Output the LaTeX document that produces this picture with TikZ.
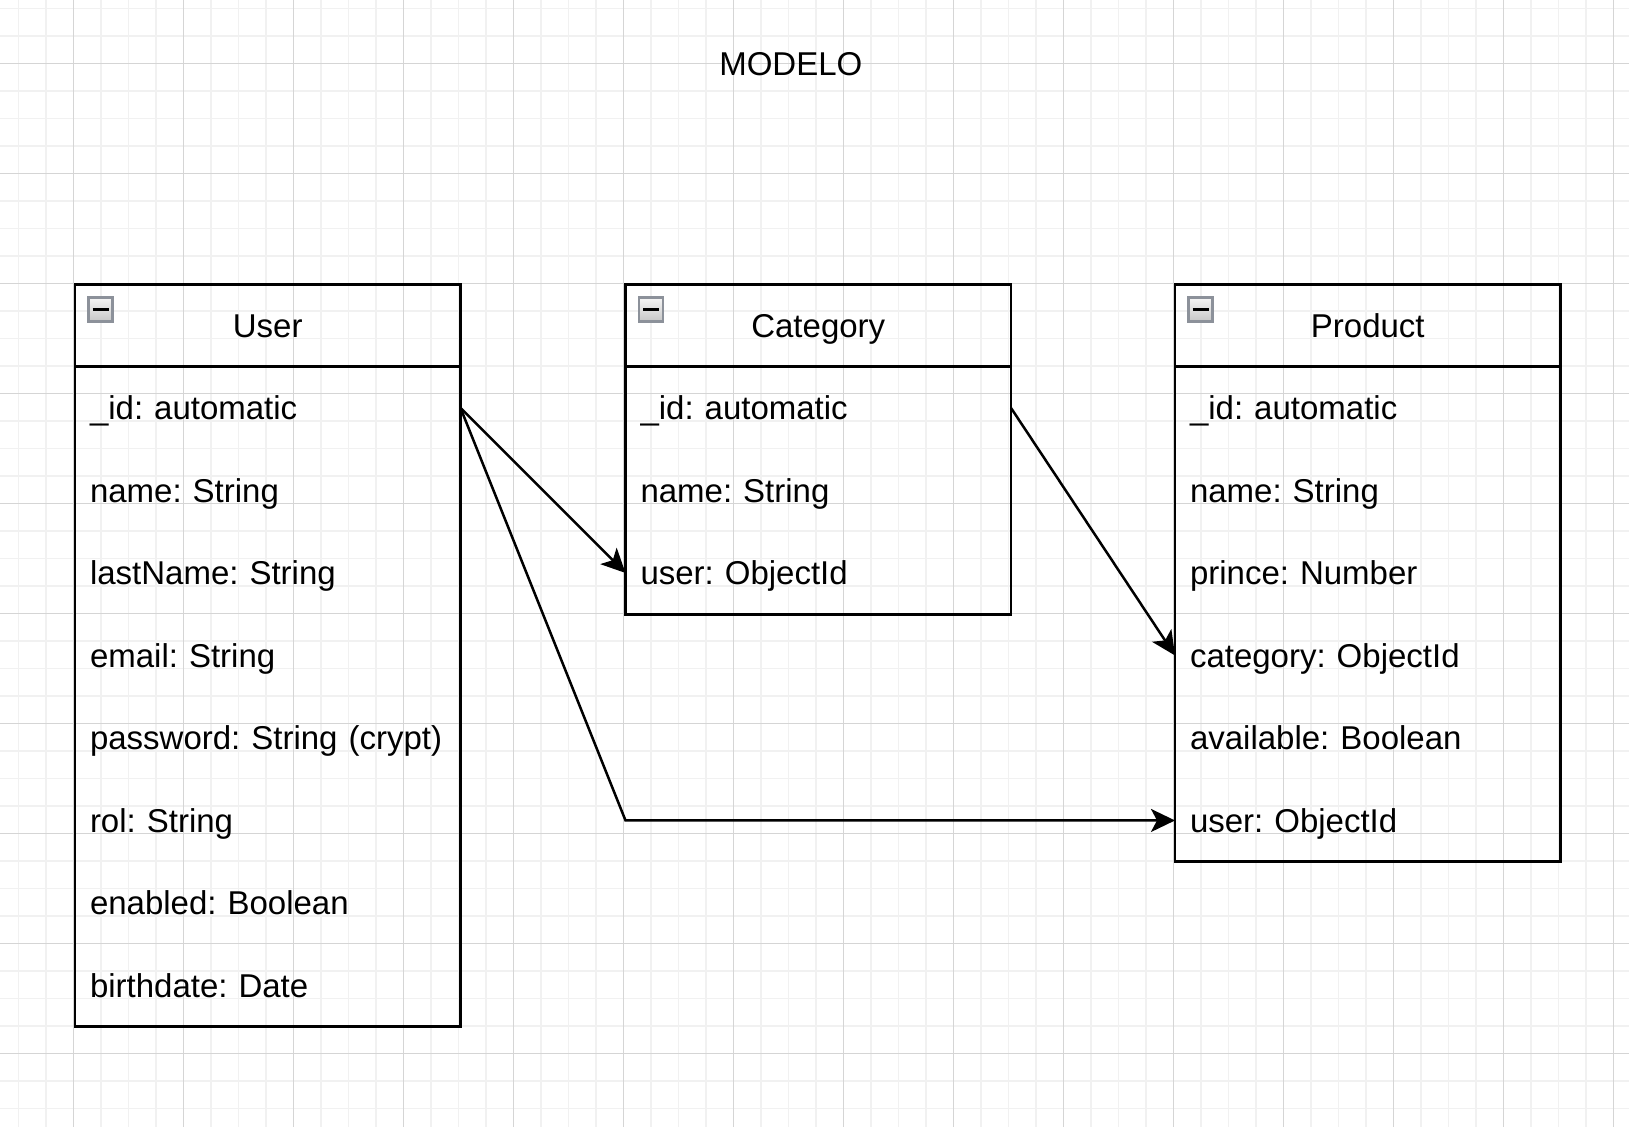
\documentclass[tikz,border=0pt]{standalone}
\usepackage{fontspec}
\setmainfont{Liberation Sans}
\usetikzlibrary{arrows.meta,positioning,shadings}
\definecolor{gridminor}{RGB}{241,241,241}
\definecolor{gridmajor}{RGB}{213,213,213}
\definecolor{iconedge}{RGB}{140,145,154}
\definecolor{icontop}{RGB}{246,246,246}
\definecolor{iconbot}{RGB}{198,198,198}
\begin{document}
\frenchspacing
\begin{tikzpicture}[x=1pt,y=-1pt,
  txt/.style={font=\fontsize{33pt}{40pt}\selectfont\frenchspacing, text height=32pt, text depth=8pt, inner sep=0pt, outer sep=0pt},
  hdr/.style={txt, draw=black, line width=2.75pt, minimum width=385.5pt, minimum height=82.4pt, align=center},
  attr/.style={txt, minimum height=82.5pt, inner xsep=15pt, text width=355.5pt, align=left, below=0pt of #1},
  bodyline/.style={draw=black, line width=2.75pt},
  collapse/.style={draw=iconedge, line width=2.4pt, top color=icontop, bottom color=iconbot, minimum size=24pt, inner sep=0pt, outer sep=0pt,
    path picture={\draw[black, line width=2.6pt] ([xshift=-8pt]path picture bounding box.center) -- ([xshift=8pt]path picture bounding box.center);}},
  gminor/.style={draw=gridminor, line width=1.4pt},
  gmajor/.style={draw=gridmajor, line width=1.2pt},
  conn/.style={line width=2.5pt, -{Stealth[length=24pt,width=23pt,inset=6pt]}}
]
\useasboundingbox (0,0) rectangle (1629,1127);
\fill[white] (0,0) rectangle (1629,1127);
% grid
\foreach \k in {-2,...,56} \draw[gminor] (73.3+27.5*\k,0) -- (73.3+27.5*\k,1127);
\foreach \k in {-2,...,38} \draw[gminor] (0,63.3+27.5*\k) -- (1629,63.3+27.5*\k);
\foreach \k in {0,...,14} \draw[gmajor] (73.3+110*\k,0) -- (73.3+110*\k,1127);
\foreach \k in {0,...,9} \draw[gmajor] (0,63.3+110*\k) -- (1629,63.3+110*\k);

% title
\node[txt] (title) at (790.8,63.7) {MODELO};

% User
\node[hdr] (userh) at (267.75,325.5) {User};
\node[attr=userh] (u1) {\mbox{\_id: automatic}};
\node[attr=u1] (u2) {\mbox{name: String}};
\node[attr=u2] (u3) {\mbox{lastName: String}};
\node[attr=u3] (u4) {\mbox{email: String}};
\node[attr=u4] (u5) {\mbox{password: String (crypt)}};
\node[attr=u5] (u6) {\mbox{rol: String}};
\node[attr=u6] (u7) {\mbox{enabled: Boolean}};
\node[attr=u7] (u8) {\mbox{birthdate: Date}};
\draw[bodyline] (userh.south west) rectangle (u8.south east);
\node[collapse] (usericon) at ([xshift=25.5pt,yshift=-25.2pt]userh.north west) {};

% Category
\node[hdr] (cath) at (818.25,325.5) {Category};
\node[attr=cath] (c1) {\mbox{\_id: automatic}};
\node[attr=c1] (c2) {\mbox{name: String}};
\node[attr=c2] (c3) {\mbox{user: ObjectId}};
\draw[bodyline] (cath.south west) rectangle (c3.south east);
\node[collapse] (caticon) at ([xshift=25.5pt,yshift=-25.2pt]cath.north west) {};

% Product
\node[hdr] (prodh) at (1367.75,325.5) {Product};
\node[attr=prodh] (p1) {\mbox{\_id: automatic}};
\node[attr=p1] (p2) {\mbox{name: String}};
\node[attr=p2] (p3) {\mbox{prince: Number}};
\node[attr=p3] (p4) {\mbox{category: ObjectId}};
\node[attr=p4] (p5) {\mbox{available: Boolean}};
\node[attr=p5] (p6) {\mbox{user: ObjectId}};
\draw[bodyline] (prodh.south west) rectangle (p6.south east);
\node[collapse] (prodicon) at ([xshift=25.5pt,yshift=-25.2pt]prodh.north west) {};

% connectors
\draw[conn] (u1.east) -- (c3.west);
\draw[conn] (u1.east) -- (c1.west |- p6.west) -- (p6.west);
\draw[conn] (c1.east) -- (p4.west);
\end{tikzpicture}
\end{document}
